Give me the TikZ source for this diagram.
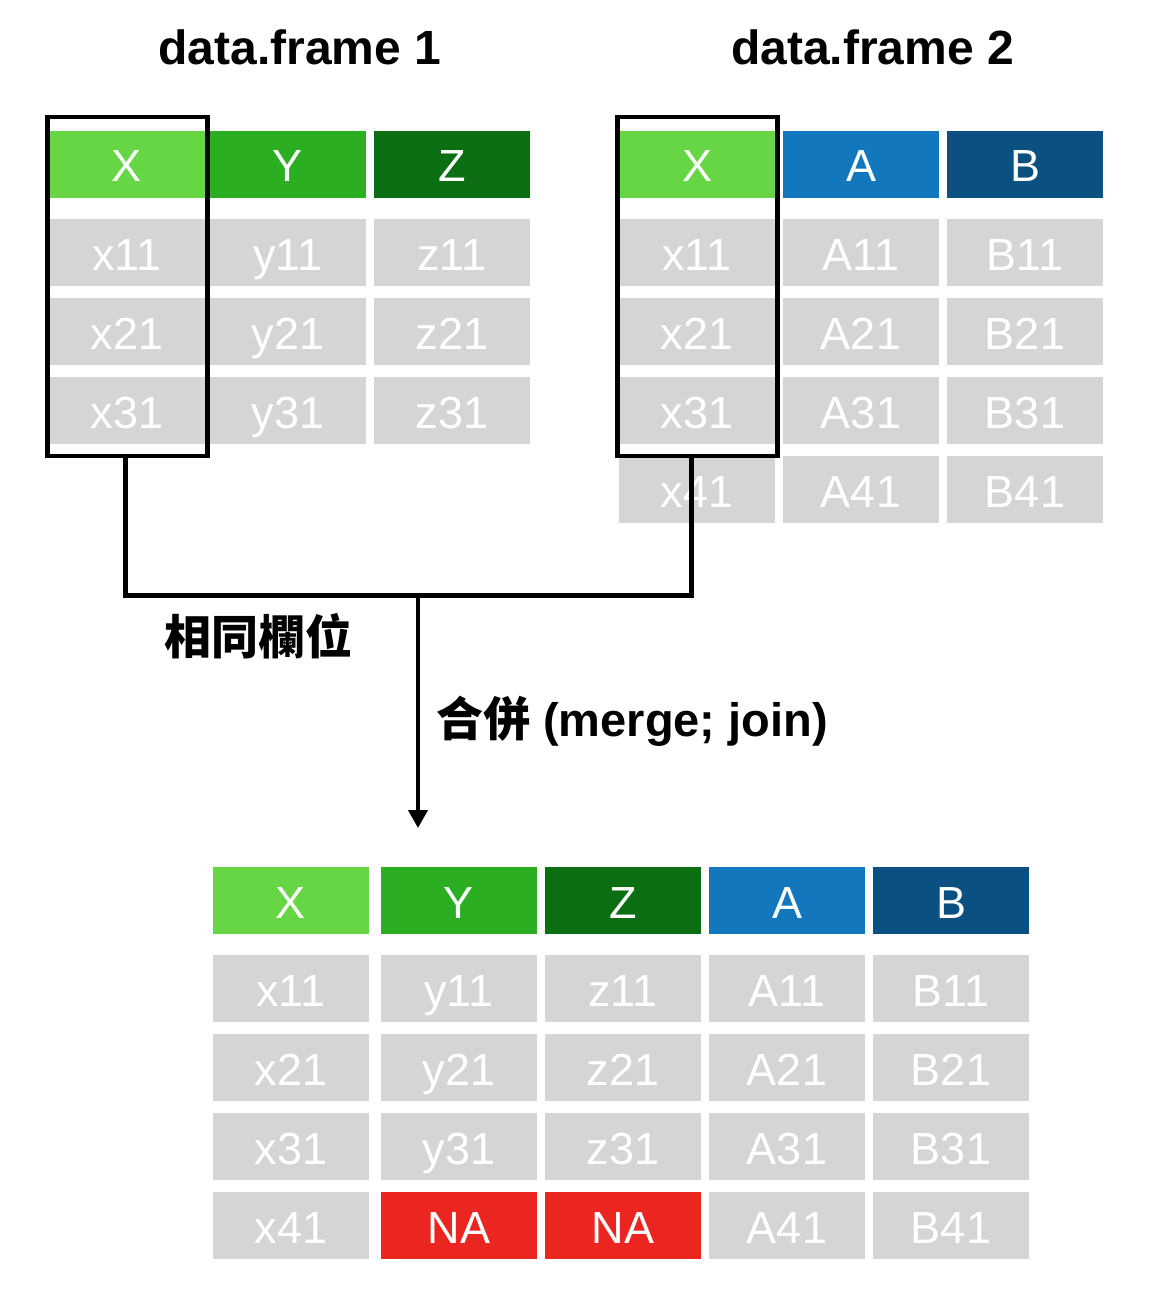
\documentclass[tikz,border=0pt]{standalone}
\usepackage{fontspec}
\setmainfont{Liberation Sans}
\newfontfamily\cjk{Noto Sans CJK TC}
\usetikzlibrary{arrows.meta,calc}
\definecolor{lgreen}{RGB}{102,214,69}
\definecolor{mgreen}{RGB}{43,174,34}
\definecolor{dgreen}{RGB}{11,110,18}
\definecolor{mblue}{RGB}{18,119,188}
\definecolor{dblue}{RGB}{10,80,128}
\definecolor{cellgrey}{RGB}{213,213,213}
\definecolor{nared}{RGB}{235,38,32}
\begin{document}
\begin{tikzpicture}[x=1pt,y=-1pt,
  cell/.style={minimum width=156pt,minimum height=67pt,inner sep=0pt,text=white,
    font=\fontsize{45}{54}\selectfont,text height=35pt,text depth=0pt,fill=cellgrey},
  selbox/.style={draw=black,line width=4.2pt,minimum width=160pt,minimum height=339pt,inner sep=0pt},
  link/.style={draw=black,line width=4.2pt,line join=miter},
  title/.style={font=\bfseries\fontsize{48}{58}\selectfont,inner sep=0pt,anchor=base},
  lbl/.style={font=\bfseries\fontsize{47}{56}\selectfont,inner sep=0pt,anchor=base west}]
\useasboundingbox (0,0) rectangle (1148,1300);
% titles
\node[title] (t1) at (300,65) {data.frame 1};
\node[title] (t2) at (872.5,65) {data.frame 2};
% table 1
\node[cell,fill=lgreen] (aX) at (127,164.5) {X};
\node[cell,fill=mgreen] (aY) at (288,164.5) {Y};
\node[cell,fill=dgreen] (aZ) at (452,164.5) {Z};
\node[cell] (ax1) at (127,252.5) {x11};
\node[cell] (ay1) at (288,252.5) {y11};
\node[cell] (az1) at (452,252.5) {z11};
\node[cell] (ax2) at (127,331.5) {x21};
\node[cell] (ay2) at (288,331.5) {y21};
\node[cell] (az2) at (452,331.5) {z21};
\node[cell] (ax3) at (127,410.5) {x31};
\node[cell] (ay3) at (288,410.5) {y31};
\node[cell] (az3) at (452,410.5) {z31};
% table 2
\node[cell,fill=lgreen] (bX) at (697,164.5) {X};
\node[cell,fill=mblue] (bA) at (861,164.5) {A};
\node[cell,fill=dblue] (bB) at (1025,164.5) {B};
\node[cell] (bx1) at (697,252.5) {x11};
\node[cell] (bA1) at (861,252.5) {A11};
\node[cell] (bB1) at (1025,252.5) {B11};
\node[cell] (bx2) at (697,331.5) {x21};
\node[cell] (bA2) at (861,331.5) {A21};
\node[cell] (bB2) at (1025,331.5) {B21};
\node[cell] (bx3) at (697,410.5) {x31};
\node[cell] (bA3) at (861,410.5) {A31};
\node[cell] (bB3) at (1025,410.5) {B31};
\node[cell] (bx4) at (697,489.5) {x41};
\node[cell] (bA4) at (861,489.5) {A41};
\node[cell] (bB4) at (1025,489.5) {B41};
% selection boxes
\node[selbox] (box1) at (127.5,286.5) {};
\node[selbox] (box2) at (697.5,286.5) {};
% connectors
\coordinate (join) at (418,595.5);
\coordinate (foot1) at ($(box1.south)+(-2,0)$);
\coordinate (foot2) at ($(box2.south)+(-6,0)$);
\coordinate (tip) at (418,828);
\draw[link] (foot1) |- (join) -| (foot2);
\draw[link,-{Triangle[width=19pt,length=18pt]}] (join) -- (tip);
% labels
\node[lbl] (l1) at (164,654) {\cjk 相同欄位};
\node[lbl] (l2) at (436,736) {{\cjk 合併} (merge; join)};
% result table
\node[cell,fill=lgreen] (cX) at (291,900.5) {X};
\node[cell,fill=mgreen] (cY) at (459,900.5) {Y};
\node[cell,fill=dgreen] (cZ) at (623,900.5) {Z};
\node[cell,fill=mblue] (cA) at (787,900.5) {A};
\node[cell,fill=dblue] (cB) at (951,900.5) {B};
\node[cell] (cx1) at (291,988.5) {x11};
\node[cell] (cy1) at (459,988.5) {y11};
\node[cell] (cz1) at (623,988.5) {z11};
\node[cell] (cA1) at (787,988.5) {A11};
\node[cell] (cB1) at (951,988.5) {B11};
\node[cell] (cx2) at (291,1067.5) {x21};
\node[cell] (cy2) at (459,1067.5) {y21};
\node[cell] (cz2) at (623,1067.5) {z21};
\node[cell] (cA2) at (787,1067.5) {A21};
\node[cell] (cB2) at (951,1067.5) {B21};
\node[cell] (cx3) at (291,1146.5) {x31};
\node[cell] (cy3) at (459,1146.5) {y31};
\node[cell] (cz3) at (623,1146.5) {z31};
\node[cell] (cA3) at (787,1146.5) {A31};
\node[cell] (cB3) at (951,1146.5) {B31};
\node[cell] (cx4) at (291,1225.5) {x41};
\node[cell,fill=nared] (cy4) at (459,1225.5) {NA};
\node[cell,fill=nared] (cz4) at (623,1225.5) {NA};
\node[cell] (cA4) at (787,1225.5) {A41};
\node[cell] (cB4) at (951,1225.5) {B41};
\end{tikzpicture}
\end{document}
